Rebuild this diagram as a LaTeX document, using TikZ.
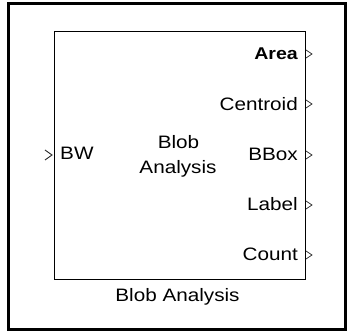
\documentclass[tikz,border=0pt]{standalone}
\usepackage{fontspec}
\setmainfont{Liberation Sans}[FakeStretch=1.15]
\usetikzlibrary{calc}
\begin{document}
\begin{tikzpicture}[x=1pt,y=-1pt,
  lbl/.style={inner sep=0pt, font=\fontsize{18}{22}\selectfont},
  blockbox/.style={draw, line width=1.3pt, inner sep=0pt, anchor=north west,
    minimum width=251pt, minimum height=248pt},
  outport/.style={draw=black!80, line width=0.8pt, line join=miter},
  inport/.style={draw=black!85, line width=0.9pt},
]
\useasboundingbox (0,0) rectangle (348,331);
% outer frame
\draw[line width=3pt] (8,3.8) rectangle (345.5,329);

% the block itself
\node[blockbox] (blk) at (54,31) {};

% port positions on the block edges
\coordinate (pin)  at (54,155);
\coordinate (p1) at (305,54);
\coordinate (p2) at (305,104);
\coordinate (p3) at (305,155);
\coordinate (p4) at (305,205);
\coordinate (p5) at (305,255);

% input port chevron
\draw[inport] ($(pin)+(-9,-5)$) -- ($(pin)+(-2,0)$) -- ($(pin)+(-9,5)$);

% output port triangles
\foreach \p in {p1,p2,p3,p4,p5}{
  \draw[outport] ($(\p)+(1,-4)$) -- ($(\p)+(7,0)$) -- ($(\p)+(1,4)$);
}

% port labels
\node[lbl, anchor=base west] (bw) at (60,160) {BW};
\node[lbl, anchor=base east, font=\fontsize{17}{20}\selectfont\bfseries] (area) at (298,60) {Area};
\node[lbl, anchor=base east] (centroid) at (298,110.5) {Centroid};
\node[lbl, anchor=base east] (bbox) at (298,160.7) {BBox};
\node[lbl, anchor=base east] (label) at (298,210.5) {Label};
\node[lbl, anchor=base east] (count) at (298,260.5) {Count};

% block title inside and name below
\node[lbl, anchor=base] (t1) at (178.5,148.3) {Blob};
\node[lbl, anchor=base] (t2) at (178,173.3) {Analysis};
\node[lbl, anchor=base] (name) at (177.5,301.7) {Blob Analysis};
\end{tikzpicture}
\end{document}
